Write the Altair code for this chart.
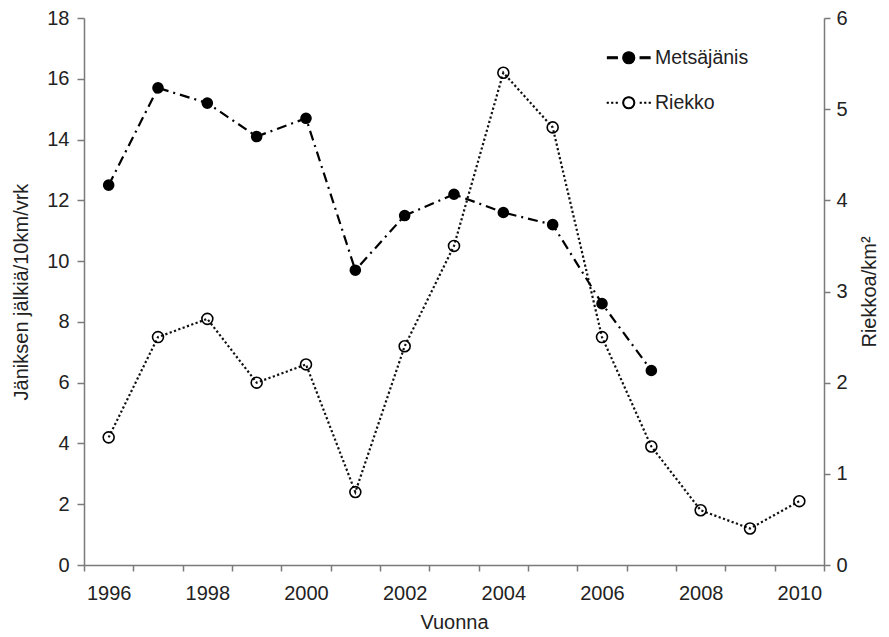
import altair as alt
import pandas as pd

# ---- data ----
years = list(range(1996, 2011))
metsajanis_years = list(range(1996, 2008))
metsajanis = [12.5, 15.7, 15.2, 14.1, 14.7, 9.7, 11.5, 12.2, 11.6, 11.2, 8.6, 6.4]
riekko = [1.4, 2.5, 2.7, 2.0, 2.2, 0.8, 2.4, 3.5, 5.4, 4.8, 2.5, 1.3, 0.6, 0.4, 0.7]
series_names = ["Metsäjänis", "Riekko"]
left_ticks = [0, 2, 4, 6, 8, 10, 12, 14, 16, 18]
right_ticks = [0, 1, 2, 3, 4, 5, 6]
x_label_years = [1996, 1998, 2000, 2002, 2004, 2006, 2008, 2010]
x_tick_bounds = [y - 0.5 for y in years] + [years[-1] + 0.5]

# ---- styles ----
FONT = "Liberation Sans"
TEXT = "#222222"
AXIS = "#7a7a7a"

# legend symbols: line segment + marker (unit circle radius = 1)
circle_cw = "M1,0A1,1 0 1,1 -1,0A1,1 0 1,1 1,0Z"
circle_ccw = "M0.86,0A0.86,0.86 0 1,0 -0.86,0A0.86,0.86 0 1,0 0.86,0Z"
sym_met = "M-3.55,-0.17H-1.9V0.17H-3.55Z" + circle_cw + "M1.9,-0.17H3.55V0.17H1.9Z"
dots = ""
for cx in [-3.5, -2.75, -2.0, 2.0, 2.75, 3.5]:
    dots += "M%.2f,-0.08h0.16v0.16h-0.16Z" % (cx - 0.08)
sym_rie = dots + circle_cw + circle_ccw

met_df = pd.DataFrame({"year": metsajanis_years, "value": metsajanis, "series": series_names[0]})
rie_df = pd.DataFrame({"year": years, "value": riekko, "series": series_names[1]})
legend_df = pd.DataFrame({"series": series_names})

x_scale = alt.Scale(domain=[x_tick_bounds[0], x_tick_bounds[-1]], nice=False, zero=False)
y_left = alt.Scale(domain=[0, 18], nice=False, zero=True)
y_right = alt.Scale(domain=[0, 6], nice=False, zero=True)

x_tick_axis = alt.Axis(values=x_tick_bounds, orient="bottom", labels=False, ticks=True,
                       tickSize=6, domain=True, grid=False, title="")
x_label_axis = alt.Axis(values=x_label_years, orient="bottom", format="d", ticks=False,
                        tickSize=0, domain=False, grid=False, labelPadding=18,
                        labelFlush=False, title="Vuonna", titlePadding=9)
left_axis = alt.Axis(values=left_ticks, tickSize=7, grid=False, labelPadding=8,
                     labelFlush=False, title="Jäniksen jälkiä/10km/vrk", titlePadding=15)
right_axis = alt.Axis(values=right_ticks, orient="right", tickSize=6, grid=False,
                      labelPadding=6, labelFlush=False, title="Riekkoa/km²",
                      titleAngle=270, titleBaseline="top", titlePadding=12)

met_line = alt.Chart(met_df).mark_line(color="black", strokeWidth=2.2,
                                       strokeDash=[10, 5, 2, 5]).encode(
    x=alt.X("year:Q", scale=x_scale, axis=x_tick_axis),
    y=alt.Y("value:Q", scale=y_left, axis=left_axis),
)
met_pts = alt.Chart(met_df).mark_point(filled=True, color="black", size=135, opacity=1).encode(
    x=alt.X("year:Q", scale=x_scale, axis=None),
    y=alt.Y("value:Q", scale=y_left, axis=None),
)
rie_line = alt.Chart(rie_df).mark_line(color="#111111", strokeWidth=2.2,
                                       strokeDash=[2.2, 2.4]).encode(
    x=alt.X("year:Q", scale=x_scale, axis=x_label_axis),
    y=alt.Y("value:Q", scale=y_right, axis=right_axis),
)
rie_pts = alt.Chart(rie_df).mark_point(filled=False, color="black", size=120,
                                       strokeWidth=1.6, opacity=1).encode(
    x=alt.X("year:Q", scale=x_scale, axis=None),
    y=alt.Y("value:Q", scale=y_right, axis=None),
)
legend_layer = alt.Chart(legend_df).mark_point(
    filled=True, color="black", stroke="black", strokeWidth=1.2, size=0, opacity=1
).encode(
    shape=alt.Shape("series:N",
                    scale=alt.Scale(domain=series_names, range=[sym_met, sym_rie]),
                    legend=alt.Legend(title="", orient="none", legendX=535, legendY=30,
                                      symbolSize=144, labelFontSize=19.5, labelOffset=16.5,
                                      rowPadding=24, padding=0, labelColor=TEXT,
                                      labelFont=FONT, symbolStrokeWidth=1.2)),
)

chart = alt.layer(met_line, met_pts, rie_line, rie_pts, legend_layer).resolve_scale(
    y="independent"
).resolve_axis(
    x="independent"
).properties(
    width=740, height=547,
    autosize=alt.AutoSizeParams(type="none"),
    padding={"left": 76, "top": 10, "right": 57, "bottom": 71},
).configure(
    font=FONT
).configure_axis(
    labelFont=FONT, titleFont=FONT, labelFontSize=20, titleFontSize=20,
    titleFontWeight="normal", labelColor=TEXT, titleColor=TEXT,
    domainColor=AXIS, tickColor=AXIS, domainWidth=1.5, tickWidth=1.5,
).configure_view(strokeWidth=0)

chart.save("out.html", embed_options={"renderer": "svg", "actions": False})
